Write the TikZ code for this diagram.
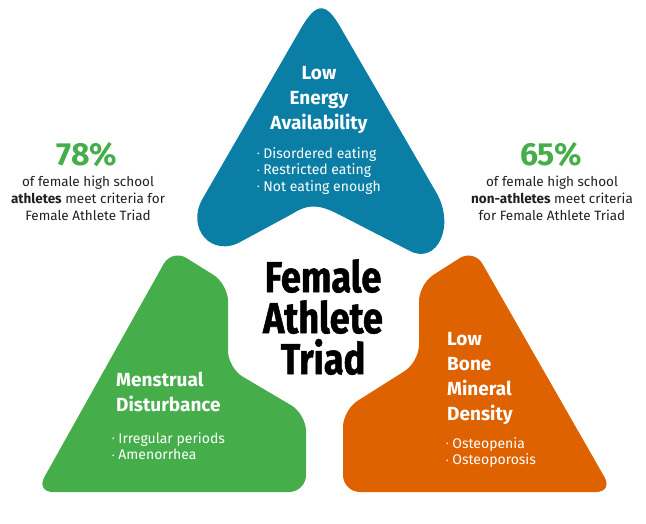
\documentclass[tikz,border=0pt]{standalone}
\usepackage{fontspec}
\setmainfont{Fira Sans}
\newfontfamily\titlefont{Fira Sans}[FakeStretch=0.83,FakeBold=1.2]
\definecolor{tblue}{HTML}{0A7EA5}
\definecolor{tgreen}{HTML}{45AE4B}
\definecolor{torange}{HTML}{DF6200}
\definecolor{tdark}{HTML}{231F20}
\newcommand{\bdot}{\raisebox{0.25ex}{\scalebox{0.55}{•}}\ }
\begin{document}
\begin{tikzpicture}[x=1pt,y=-1pt,
  head/.style={text=white, font=\bfseries\fontsize{19}{25}\selectfont, inner sep=0},
  bul/.style={text=white, font=\fontsize{14}{16.8}\selectfont, inner sep=0, align=left, anchor=north west},
  pct/.style={text=tgreen, font=\bfseries\fontsize{32}{32}\selectfont, inner sep=0, anchor=north},
  stat/.style={text=tdark, font=\fontsize{13.5}{16.8}\selectfont, inner sep=0, align=center, anchor=north}]
\useasboundingbox (0,0) rectangle (646,523);
% blue shape
\fill[tblue] (300,30) .. controls (316.5,1) and (326,1) .. (342,30)
  -- (436,192) .. controls (456,226) and (437,265) .. (410,251)
  -- (338,214) .. controls (320,205) and (309,203) .. (292,214)
  -- (242,241) .. controls (212,259) and (185,228) .. (203,198)
  -- cycle;
% green shape
\fill[tgreen, rounded corners=17pt] (172,249) -- (228,284) -- (228,368) -- (306,414) -- (306,492) -- (36,492) -- cycle;
% orange shape
\fill[torange, rounded corners=17pt] (474,249) -- (613,492) -- (343,492) -- (343,410) -- (419,362) -- (419,284) -- cycle;
% title
\node[inner sep=0, anchor=north, align=center, font=\titlefont\bfseries\fontsize{43.5}{41}\selectfont] (title) at (323,259) {Female\\Athlete\\Triad};
% blue
\node[head, anchor=north, align=center] (lea) at (319,66) {Low\\Energy\\Availability};
\node[bul] (leab) at (257,147) {\bdot Disordered eating\\\bdot Restricted eating\\\bdot Not eating enough};
% green
\node[head, anchor=north west, align=left] (md) at (116,372) {Menstrual\\Disturbance};
\node[bul] (mdb) at (112,432) {\bdot Irregular periods\\\bdot Amenorrhea};
% orange
\node[head, anchor=north west, align=left] (bmd) at (447,332) {Low\\Bone\\Mineral\\Density};
\node[bul] (bmdb) at (446,437) {\bdot Osteopenia\\\bdot Osteoporosis};
% stats
\node[pct] (p78) at (87,142) {78\%};
\node[stat] (s78) at (88,176) {of female high school\\\textbf{athletes} meet criteria for\\Female Athlete Triad};
\node[pct] (p65) at (551,142) {65\%};
\node[stat] (s65) at (552,176) {of female high school\\\textbf{non-athletes} meet criteria\\for Female Athlete Triad};
\end{tikzpicture}
\end{document}
